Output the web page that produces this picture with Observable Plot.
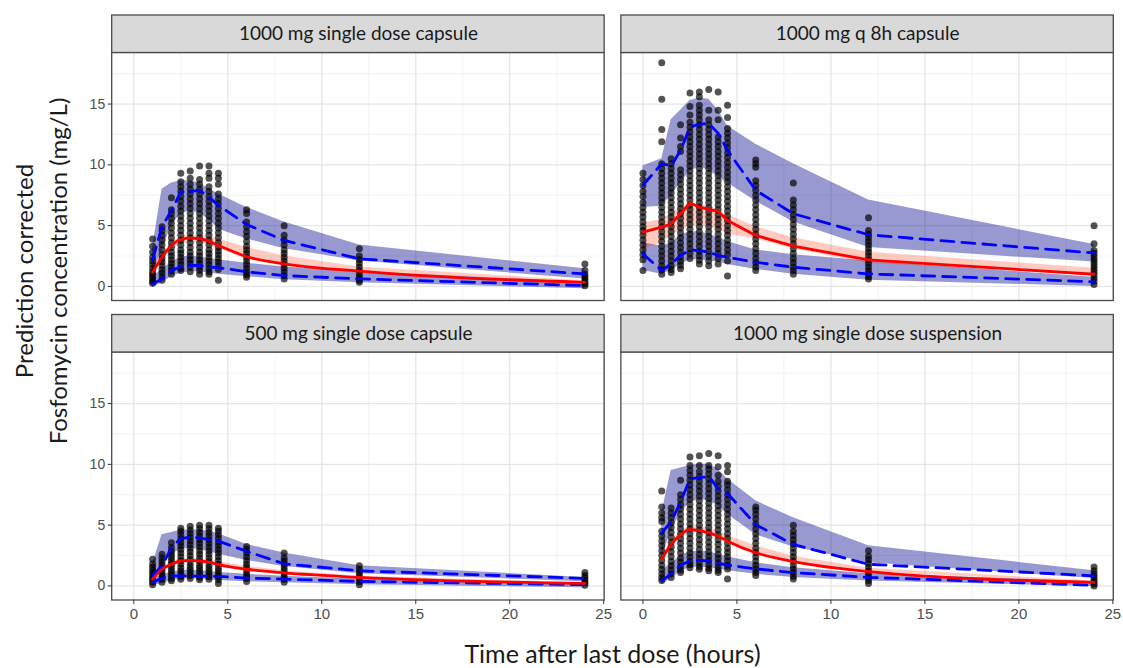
<!DOCTYPE html>
<html><head><meta charset="utf-8">
<script src="https://cdn.jsdelivr.net/npm/d3@7"></script>
<script src="https://cdn.jsdelivr.net/npm/@observablehq/plot@0.6"></script>
<style>
html,body{margin:0;padding:0;background:#fff;}
#wrap{position:relative;width:1123px;height:668px;overflow:hidden;font-family:Lato,"Open Sans",sans-serif;}
#chart{position:absolute;left:0;top:0;}
#ytitle{position:absolute;left:-209px;top:237px;width:500px;height:68px;line-height:34px;font-size:24px;text-align:center;transform:rotate(-90deg);color:#1a1a1a;white-space:nowrap;}
#xtitle{position:absolute;left:112px;top:638px;width:1001px;height:30px;line-height:30px;font-size:25px;text-align:center;color:#1a1a1a;white-space:nowrap;}
</style>
</head><body>
<div id="wrap">
  <div id="chart"></div>
  <div id="ytitle">Prediction corrected<br>Fosfomycin concentration (mg/L)</div>
  <div id="xtitle">Time after last dose (hours)</div>
</div>
<script>
// ---------- panels ----------
const panelNames = ["1000 mg single dose capsule", "1000 mg q 8h capsule", "500 mg single dose capsule", "1000 mg single dose suspension"];
const panelCol = [0, 1, 0, 1];
const panelRow = [0, 0, 1, 1];

// ---------- time bins ----------
const timesSingle = [1, 1.5, 2, 2.5, 3, 3.5, 4, 4.5, 6, 8, 12, 24];
const timesQ8h = [0, 1, 1.5, 2, 2.5, 3, 3.5, 4, 4.5, 6, 8, 12, 24];

// ---------- ticks ----------
const xTicks = [0, 5, 10, 15, 20, 25];
const xMinor = [2.5, 7.5, 12.5, 17.5, 22.5];
const yTicks = [0, 5, 10, 15];
const yMinor = [2.5, 7.5, 12.5, 17.5];

// ---------- Panel A: 1000 mg single dose capsule ----------
const medA  = [1.16, 2.4, 3.37, 3.86, 3.97, 3.92, 3.7, 3.37, 2.45, 1.86, 1.25, 0.34];
const p95A  = [2.2, 4.9, 6.25, 7.77, 7.8, 7.9, 7.35, 6.67, 5.1, 3.78, 2.27, 1.03];
const p05A  = [0.2, 0.62, 1.3, 1.63, 1.72, 1.72, 1.6, 1.55, 1.2, 0.89, 0.62, 0.07];
const hiLoA = [1.0, 3.0, 5.0, 6.0, 6.2, 6.0, 5.5, 4.7, 3.9, 3.1, 2.1, 0.6];
const hiHiA = [3.2, 8.0, 8.5, 8.7, 8.7, 8.5, 8.0, 7.6, 6.5, 5.3, 3.4, 1.45];
const loLoA = [-0.1, 0.3, 0.8, 1.1, 1.2, 1.2, 1.1, 1.0, 0.8, 0.55, 0.3, -0.2];
const loHiA = [0.8, 1.4, 2.0, 2.4, 2.5, 2.4, 2.3, 2.2, 1.9, 1.6, 1.2, 0.35];
const mdLoA = [1.0, 2.1, 3.0, 3.5, 3.6, 3.6, 3.4, 3.1, 2.3, 1.8, 1.2, 0.3];
const mdHiA = [1.4, 2.6, 3.6, 4.1, 4.2, 4.2, 4.1, 3.9, 3.2, 2.5, 1.6, 0.45];
const obsA = [
  [3.9, 3.3, 2.8, 2.4, 2.1, 1.8, 1.5, 1.2, 1.0, 0.8, 0.6, 0.4, 0.25],
  [4.9, 4.6, 4.2, 3.8, 3.4, 3.0, 2.6, 2.3, 2.0, 1.7, 1.4, 1.1, 0.8, 0.5],
  [7.3, 6.3, 6.0, 5.6, 5.2, 4.8, 4.4, 4.0, 3.6, 3.2, 2.8, 2.5, 2.2, 1.9, 1.6, 1.3, 1.0],
  [9.3, 8.6, 8.2, 7.8, 7.4, 7.0, 6.6, 6.2, 5.8, 5.4, 5.0, 4.6, 4.2, 3.8, 3.4, 3.0, 2.7, 2.4, 2.1, 1.8, 1.5, 1.3],
  [9.5, 8.9, 8.4, 8.0, 7.6, 7.2, 6.8, 6.4, 6.0, 5.6, 5.2, 4.8, 4.4, 4.0, 3.6, 3.2, 2.8, 2.5, 2.2, 1.9, 1.6, 1.2],
  [9.9, 8.8, 8.4, 8.0, 7.6, 7.2, 6.8, 6.4, 6.0, 5.6, 5.2, 4.8, 4.4, 4.0, 3.6, 3.2, 2.8, 2.5, 2.2, 1.9, 1.6, 1.3, 1.0],
  [9.9, 9.3, 8.9, 8.2, 7.8, 7.4, 7.0, 6.6, 6.2, 5.8, 5.4, 5.0, 4.6, 4.2, 3.8, 3.4, 3.0, 2.7, 2.4, 2.1, 1.8, 1.5, 1.2, 1.0],
  [9.3, 8.9, 8.4, 7.6, 7.2, 6.8, 6.4, 6.0, 5.6, 5.2, 4.8, 4.4, 4.0, 3.6, 3.2, 2.9, 2.6, 2.3, 2.0, 1.7, 1.4, 0.5],
  [6.3, 6.0, 5.3, 4.9, 4.5, 4.1, 3.7, 3.3, 3.0, 2.7, 2.4, 2.1, 1.8, 1.5, 1.2, 0.95, 0.75],
  [5.0, 4.2, 3.8, 3.4, 3.0, 2.7, 2.4, 2.1, 1.8, 1.5, 1.2, 0.9, 0.6],
  [3.1, 2.5, 2.2, 1.9, 1.6, 1.3, 1.0, 0.75, 0.5, 0.35],
  [1.85, 1.3, 1.0, 0.8, 0.6, 0.4, 0.2, 0.05]
];

// ---------- Panel B: 1000 mg q 8h capsule ----------
const medB  = [4.47, 4.88, 5.15, 5.98, 6.86, 6.53, 6.34, 6.17, 5.43, 4.19, 3.31, 2.18, 1.0];
const p95B  = [8.32, 10.1, 9.9, 11.2, 13.1, 13.35, 13.4, 12.6, 11.2, 7.9, 5.98, 4.25, 2.75];
const p05B  = [2.68, 1.3, 1.85, 2.54, 3.0, 2.95, 2.82, 2.54, 2.4, 1.99, 1.58, 1.03, 0.38];
const hiLoB = [6.5, 6.6, 7.5, 8.5, 9.5, 9.8, 9.6, 9.0, 8.5, 7.0, 5.3, 3.2, 2.0];
const hiHiB = [9.9, 10.5, 13.7, 14.5, 15.3, 15.5, 15.4, 14.5, 13.2, 11.7, 10.1, 7.1, 3.45];
const loLoB = [1.3, 1.0, 1.3, 1.8, 2.2, 2.2, 2.1, 2.0, 1.8, 1.4, 1.0, 0.5, 0.0];
const loHiB = [3.6, 3.3, 3.6, 4.2, 4.5, 4.5, 4.3, 4.0, 3.7, 3.0, 2.6, 2.1, 0.75];
const mdLoB = [3.0, 3.6, 4.2, 4.6, 5.0, 5.0, 4.9, 4.7, 4.3, 3.9, 3.1, 1.9, 0.9];
const mdHiB = [5.2, 5.5, 6.0, 6.5, 6.8, 6.8, 6.6, 6.3, 5.9, 4.9, 4.0, 2.8, 1.5];
const obsB = [
  [9.3, 8.8, 8.3, 7.8, 7.4, 6.9, 6.5, 6.1, 5.7, 5.3, 4.9, 4.6, 4.2, 3.8, 3.4, 3.0, 2.6, 2.2, 1.3],
  [18.4, 15.4, 12.9, 11.9, 10.1, 9.7, 9.3, 8.9, 8.5, 8.1, 7.7, 7.3, 6.9, 6.5, 6.1, 5.7, 5.3, 4.9, 4.5, 4.1, 3.7, 3.3, 2.9, 2.5, 2.1, 1.7, 1.35, 1.0],
  [10.5, 10.1, 9.7, 9.3, 8.9, 8.5, 8.1, 7.7, 7.3, 6.9, 6.5, 6.1, 5.7, 5.3, 4.9, 4.5, 4.1, 3.7, 3.3, 2.9, 2.5, 2.1, 1.7, 1.4, 1.15],
  [13.3, 12.2, 11.5, 11.1, 9.6, 9.2, 8.8, 8.4, 8.0, 7.6, 7.2, 6.8, 6.4, 6.0, 5.6, 5.2, 4.8, 4.4, 4.0, 3.6, 3.2, 2.8, 2.4, 2.05, 1.75, 1.45],
  [15.9, 14.8, 14.1, 13.5, 13.1, 12.7, 12.3, 11.9, 11.5, 11.1, 10.7, 10.3, 9.9, 9.5, 9.1, 8.7, 8.3, 7.9, 7.5, 7.1, 6.7, 6.3, 5.9, 5.5, 5.1, 4.7, 4.3, 3.9, 3.5, 3.1, 2.7, 2.3],
  [16.0, 15.6, 14.9, 14.5, 14.1, 13.7, 13.3, 12.9, 12.5, 12.1, 11.7, 11.3, 10.9, 10.5, 10.1, 9.7, 9.3, 8.9, 8.5, 8.1, 7.7, 7.3, 6.9, 6.5, 6.1, 5.7, 5.3, 4.9, 4.5, 4.1, 3.7, 3.3, 2.9, 2.5, 2.15, 1.85],
  [16.2, 14.5, 13.7, 13.3, 12.9, 12.5, 12.1, 11.7, 11.3, 10.9, 10.5, 10.1, 9.7, 9.3, 8.9, 8.5, 8.1, 7.7, 7.3, 6.9, 6.5, 6.1, 5.7, 5.3, 4.9, 4.5, 4.1, 3.7, 3.3, 2.9, 2.5, 2.1, 1.7],
  [16.0, 14.5, 13.7, 12.3, 11.9, 11.5, 11.1, 10.7, 10.3, 9.9, 9.5, 9.1, 8.7, 8.3, 7.9, 7.5, 7.1, 6.7, 6.3, 5.9, 5.5, 5.1, 4.7, 4.3, 3.9, 3.5, 3.1, 2.7, 2.3, 1.85],
  [14.9, 13.9, 13.0, 12.6, 12.2, 11.8, 11.4, 11.0, 10.6, 10.2, 9.8, 9.4, 9.0, 8.6, 8.2, 7.8, 7.4, 7.0, 6.6, 6.2, 5.8, 5.4, 5.0, 4.6, 4.2, 3.8, 3.4, 3.0, 2.6, 2.1, 0.85],
  [10.4, 10.1, 9.8, 8.7, 8.3, 7.9, 7.5, 7.1, 6.7, 6.3, 5.9, 5.5, 5.1, 4.7, 4.3, 3.9, 3.5, 3.1, 2.7, 2.3, 1.95, 1.6, 1.3],
  [8.5, 7.1, 6.7, 6.3, 5.9, 5.5, 5.1, 4.7, 4.3, 3.9, 3.5, 3.1, 2.7, 2.3, 1.95, 1.6, 1.3, 1.0],
  [5.65, 4.6, 4.3, 4.0, 3.7, 3.4, 3.1, 2.8, 2.5, 2.2, 1.9, 1.6, 1.3, 1.05, 0.8, 0.6],
  [5.0, 3.5, 2.95, 2.7, 2.45, 2.2, 1.95, 1.7, 1.45, 1.2, 0.95, 0.7, 0.45, 0.15]
];

// ---------- Panel C: 500 mg single dose capsule ----------
const medC  = [0.56, 1.37, 1.78, 2.05, 2.1, 2.05, 1.95, 1.76, 1.37, 1.07, 0.7, 0.21];
const p95C  = [0.85, 1.64, 3.13, 3.9, 4.0, 3.95, 3.8, 3.68, 2.85, 1.82, 1.24, 0.62];
const p05C  = [0.29, 0.64, 0.83, 0.83, 0.82, 0.8, 0.8, 0.78, 0.64, 0.56, 0.37, 0.1];
const hiLoC = [0.5, 1.7, 2.6, 3.0, 3.1, 3.0, 2.8, 2.6, 2.1, 1.6, 1.0, 0.35];
const hiHiC = [1.8, 4.2, 4.4, 4.6, 4.6, 4.6, 4.5, 4.3, 3.4, 2.7, 1.65, 0.7];
const loLoC = [0.0, 0.2, 0.45, 0.55, 0.6, 0.55, 0.5, 0.45, 0.35, 0.25, 0.1, -0.15];
const loHiC = [0.6, 0.9, 1.15, 1.25, 1.3, 1.25, 1.2, 1.1, 0.95, 0.8, 0.55, 0.2];
const mdLoC = [0.5, 1.2, 1.65, 1.9, 1.95, 1.9, 1.8, 1.65, 1.3, 1.0, 0.65, 0.18];
const mdHiC = [0.7, 1.5, 1.95, 2.2, 2.25, 2.2, 2.1, 2.0, 1.6, 1.25, 0.8, 0.25];
const obsC = [
  [2.2, 1.8, 1.55, 1.3, 1.1, 0.9, 0.7, 0.5, 0.3, 0.1],
  [2.6, 2.3, 2.0, 1.75, 1.5, 1.25, 1.0, 0.8, 0.55, 0.3],
  [3.55, 3.15, 2.85, 2.6, 2.35, 2.1, 1.85, 1.6, 1.35, 1.1, 0.85, 0.6, 0.42],
  [4.75, 4.5, 4.2, 3.9, 3.6, 3.3, 3.0, 2.7, 2.4, 2.1, 1.8, 1.5, 1.25, 1.0, 0.75, 0.55],
  [4.9, 4.6, 4.3, 4.0, 3.7, 3.4, 3.1, 2.8, 2.5, 2.2, 1.9, 1.6, 1.35, 1.1, 0.85, 0.6],
  [5.0, 4.7, 4.4, 4.1, 3.8, 3.5, 3.2, 2.9, 2.6, 2.3, 2.0, 1.7, 1.45, 1.2, 0.95, 0.7, 0.5],
  [5.0, 4.7, 4.4, 4.1, 3.8, 3.5, 3.2, 2.9, 2.6, 2.3, 2.0, 1.7, 1.45, 1.2, 0.95, 0.75, 0.55],
  [4.75, 4.5, 4.2, 3.9, 3.6, 3.3, 3.0, 2.7, 2.4, 2.1, 1.8, 1.5, 1.25, 1.0, 0.75, 0.5, 0.2],
  [3.25, 3.0, 2.7, 2.4, 2.1, 1.8, 1.55, 1.3, 1.05, 0.8, 0.6, 0.37],
  [2.7, 2.3, 2.05, 1.8, 1.55, 1.3, 1.05, 0.8, 0.55, 0.3],
  [1.65, 1.35, 1.1, 0.85, 0.6, 0.35, 0.1],
  [1.1, 0.85, 0.65, 0.45, 0.25, 0.05]
];

// ---------- Panel D: 1000 mg single dose suspension ----------
const medD  = [2.19, 3.41, 4.22, 4.63, 4.55, 4.36, 4.09, 3.68, 2.73, 2.0, 1.18, 0.29];
const p95D  = [4.36, 5.3, 6.9, 8.8, 8.9, 9.0, 8.0, 7.6, 5.04, 3.41, 1.78, 0.83];
const p05D  = [0.42, 1.0, 1.7, 2.05, 2.1, 2.05, 1.85, 1.72, 1.4, 1.1, 0.7, 0.05];
const hiLoD = [2.4, 4.5, 6.0, 6.9, 7.1, 7.0, 6.6, 5.9, 4.2, 3.2, 1.9, 0.6];
const hiHiD = [6.0, 9.5, 9.7, 9.9, 10.0, 10.0, 9.6, 8.8, 7.0, 5.6, 3.3, 1.25];
const loLoD = [0.1, 0.6, 1.2, 1.5, 1.55, 1.5, 1.4, 1.25, 0.95, 0.7, 0.4, -0.05];
const loHiD = [1.3, 1.8, 2.5, 2.8, 2.85, 2.8, 2.6, 2.4, 1.9, 1.5, 1.0, 0.35];
const mdLoD = [2.0, 3.2, 4.0, 4.4, 4.4, 4.2, 3.95, 3.55, 2.65, 1.95, 1.15, 0.27];
const mdHiD = [2.5, 3.7, 4.5, 4.9, 4.9, 4.75, 4.5, 4.15, 3.3, 2.45, 1.45, 0.4];
const obsD = [
  [7.8, 6.5, 6.0, 5.6, 5.3, 4.5, 4.1, 3.7, 3.3, 2.9, 2.5, 2.1, 1.7, 1.35, 1.0, 0.7, 0.45],
  [6.4, 6.0, 5.6, 5.2, 4.8, 4.4, 4.0, 3.6, 3.2, 2.8, 2.4, 2.0, 1.65, 1.3, 1.0, 0.7],
  [8.7, 7.5, 7.1, 6.7, 6.3, 5.9, 5.5, 5.1, 4.7, 4.3, 3.9, 3.5, 3.1, 2.7, 2.3, 1.95, 1.6, 1.3, 1.1],
  [10.6, 9.9, 9.5, 9.1, 8.7, 8.3, 7.9, 7.5, 7.1, 6.7, 6.3, 5.9, 5.5, 5.1, 4.7, 4.3, 3.9, 3.5, 3.1, 2.7, 2.35, 2.0, 1.75, 1.5],
  [10.7, 9.9, 9.4, 9.0, 8.6, 8.2, 7.8, 7.4, 7.0, 6.6, 6.2, 5.8, 5.4, 5.0, 4.6, 4.2, 3.8, 3.4, 3.0, 2.6, 2.25, 1.9, 1.6, 1.37],
  [10.9, 9.9, 9.6, 9.2, 8.8, 8.4, 8.0, 7.6, 7.2, 6.8, 6.4, 6.0, 5.6, 5.2, 4.8, 4.4, 4.0, 3.6, 3.2, 2.8, 2.45, 2.1, 1.75, 1.45, 1.24],
  [10.7, 9.8, 9.1, 8.6, 8.2, 7.8, 7.4, 7.0, 6.6, 6.2, 5.8, 5.4, 5.0, 4.6, 4.2, 3.8, 3.4, 3.0, 2.6, 2.25, 1.9, 1.55, 1.3, 1.1],
  [9.9, 9.4, 8.6, 8.3, 7.9, 7.5, 7.1, 6.7, 6.3, 5.9, 5.5, 5.1, 4.7, 4.3, 3.9, 3.5, 3.1, 2.75, 2.4, 2.05, 1.7, 1.4, 0.56],
  [6.5, 6.25, 5.9, 5.5, 5.1, 4.7, 4.3, 3.9, 3.5, 3.1, 2.75, 2.4, 2.05, 1.7, 1.4, 1.1, 0.85],
  [5.0, 4.5, 4.15, 3.8, 3.45, 3.1, 2.75, 2.4, 2.05, 1.7, 1.4, 1.1, 0.8, 0.56],
  [2.9, 2.45, 2.15, 1.85, 1.55, 1.25, 0.95, 0.7, 0.45, 0.2],
  [1.55, 1.25, 0.97, 0.75, 0.55, 0.35, 0.15, 0.0]
];

// ---------- assemble tables ----------
const series = [
  {t: timesSingle, med: medA, p95: p95A, p05: p05A, hiLo: hiLoA, hiHi: hiHiA, loLo: loLoA, loHi: loHiA, mdLo: mdLoA, mdHi: mdHiA, obs: obsA, smooth: true},
  {t: timesQ8h,   med: medB, p95: p95B, p05: p05B, hiLo: hiLoB, hiHi: hiHiB, loLo: loLoB, loHi: loHiB, mdLo: mdLoB, mdHi: mdHiB, obs: obsB, smooth: false},
  {t: timesSingle, med: medC, p95: p95C, p05: p05C, hiLo: hiLoC, hiHi: hiHiC, loLo: loLoC, loHi: loHiC, mdLo: mdLoC, mdHi: mdHiC, obs: obsC, smooth: true},
  {t: timesSingle, med: medD, p95: p95D, p05: p05D, hiLo: hiLoD, hiHi: hiHiD, loLo: loLoD, loHi: loHiD, mdLo: mdLoD, mdHi: mdHiD, obs: obsD, smooth: true}
];
const panels = panelNames.map((name, k) => ({name, col: panelCol[k], row: panelRow[k]}));
const rows = [], pts = [];
series.forEach((s, k) => {
  s.t.forEach((t, i) => {
    rows.push({panel: panelNames[k], col: panelCol[k], row: panelRow[k], smooth: s.smooth, t,
      med: s.med[i], p95: s.p95[i], p05: s.p05[i], hiLo: s.hiLo[i], hiHi: s.hiHi[i],
      loLo: s.loLo[i], loHi: s.loHi[i], mdLo: s.mdLo[i], mdHi: s.mdHi[i]});
    s.obs[i].forEach(v => pts.push({col: panelCol[k], row: panelRow[k], t, v}));
  });
});
const rowsSmooth = rows.filter(d => d.smooth);
const rowsLinear = rows.filter(d => !d.smooth);

// ---------- scale extents (panel + strip) ----------
const xLo = -1.15, xHi = 25.05;
const yLo = -1.2, yHi = 19.2, yStrip = 22.285;
const fac = {fx: "col", fy: "row"};
const tickFont = "'Liberation Sans', Arial, Helvetica, sans-serif";

const chart = Plot.plot({
  width: 1123,
  height: 640,
  marginLeft: 111.7,
  marginRight: 9.7,
  marginTop: 15,
  marginBottom: 40,
  style: {fontFamily: "Lato, sans-serif", background: "white", overflow: "visible"},
  x: {domain: [xLo, xHi]},
  y: {domain: [yLo, yStrip]},
  fx: {domain: [0, 1], paddingInner: 0.0328, paddingOuter: 0, axis: null, label: null, round: false},
  fy: {domain: [0, 1], paddingInner: 0.04674, paddingOuter: 0, axis: null, label: null, round: false},
  marks: [
    Plot.ruleY(yMinor, {y: d => d, stroke: "#EFEFEF", strokeWidth: 0.8}),
    Plot.ruleX(xMinor, {x: d => d, stroke: "#EFEFEF", strokeWidth: 0.8}),
    Plot.ruleY(yTicks, {y: d => d, stroke: "#E6E6E6", strokeWidth: 1.3}),
    Plot.ruleX(xTicks, {x: d => d, stroke: "#E6E6E6", strokeWidth: 1.3}),
    Plot.areaY(rows, {x: "t", y1: "hiLo", y2: "hiHi", ...fac, fill: "#00008B", fillOpacity: 0.4}),
    Plot.areaY(rows, {x: "t", y1: "loLo", y2: "loHi", ...fac, fill: "#00008B", fillOpacity: 0.4}),
    Plot.areaY(rows, {x: "t", y1: "mdLo", y2: "mdHi", ...fac, fill: "#FF2A00", fillOpacity: 0.25}),
    Plot.dot(pts, {x: "t", y: "v", ...fac, r: 3.5, fill: "black", fillOpacity: 0.68, stroke: "none"}),
    Plot.line(rows, {x: "t", y: "p95", ...fac, stroke: "#0000FF", strokeWidth: 2.8, strokeDasharray: "13,8"}),
    Plot.line(rows, {x: "t", y: "p05", ...fac, stroke: "#0000FF", strokeWidth: 2.8, strokeDasharray: "13,8"}),
    Plot.line(rowsSmooth, {x: "t", y: "med", ...fac, stroke: "#FF0000", strokeWidth: 2.8, curve: "monotone-x"}),
    Plot.line(rowsLinear, {x: "t", y: "med", ...fac, stroke: "#FF0000", strokeWidth: 2.8}),
    Plot.rect(panels, {x1: xLo, x2: xHi, y1: yLo, y2: yHi, ...fac, fill: "none", stroke: "#4a4a4a", strokeWidth: 1.3}),
    Plot.rect(panels, {x1: xLo, x2: xHi, y1: yHi, y2: yStrip, ...fac, fill: "#D9D9D9", stroke: "#4a4a4a", strokeWidth: 1.3}),
    Plot.text(panels, {x: (xLo + xHi) / 2, y: (yHi + yStrip) / 2, text: "name", ...fac, fontSize: 19, fill: "#1a1a1a", fontFamily: "Lato, sans-serif"}),
    Plot.axisY({ticks: yTicks, tickSize: 4, tickPadding: 3, fontSize: 14, fill: "#4d4d4d", stroke: "#333", label: null, facetAnchor: "left", fontFamily: tickFont}),
    Plot.axisX({ticks: xTicks, tickSize: 4, tickPadding: 4, fontSize: 15, fill: "#4d4d4d", stroke: "#333", label: null, facetAnchor: "bottom", fontFamily: tickFont})
  ]
});
document.getElementById("chart").appendChild(chart);
</script>
</body></html>
